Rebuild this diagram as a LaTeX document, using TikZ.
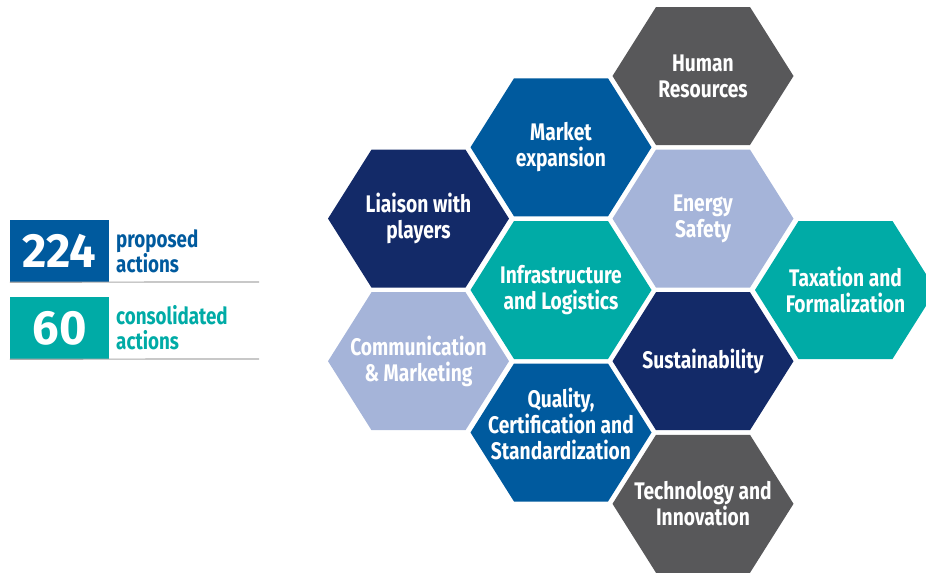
\documentclass[tikz,border=0pt]{standalone}
\usepackage{fontspec}
\newfontfamily\condfont{Fira Sans}[FakeStretch=0.8]
\newfontfamily\numfont{Fira Sans}[FakeStretch=0.98]
\definecolor{hexgray}{RGB}{88,88,90}
\definecolor{hexblue}{RGB}{0,90,158}
\definecolor{hexnavy}{RGB}{19,42,104}
\definecolor{hexlight}{RGB}{165,180,217}
\definecolor{hexteal}{RGB}{0,171,166}
\definecolor{rulegray}{RGB}{170,170,170}
\tikzset{
  hextext/.style={text=white, align=center, font=\condfont\bfseries\fontsize{24}{26}\selectfont, inner sep=0pt},
  countbox/.style={minimum width=99pt, minimum height=62pt, inner sep=0pt, text=white, font=\numfont\bfseries\fontsize{48}{48}\selectfont},
  countlabel/.style={anchor=west, align=left, inner sep=0pt, font=\condfont\bfseries\fontsize{23.5}{25}\selectfont}
}
% one hexagon cell: [label options] name, centre, colour, label
\newcommand\hexcell[5][]{%
  \fill[#4, shift={(#3)}] (-90.5,0) -- (-47,-69) -- (47,-69) -- (90.5,0) -- (47,69) -- (-47,69) -- cycle;
  \node[hextext, #1] (#2) at (#3) {#5};}
\begin{document}
\begin{tikzpicture}[x=1pt, y=-1pt]
\useasboundingbox (0,0) rectangle (926,574);
\begin{scope}
\clip (0,0) rectangle (926,574);
\hexcell{hr}{703,76}{hexgray}{Human\\Resources}
\hexcell{market}{561,147.3}{hexblue}{Market\\expansion}
\hexcell{energy}{703,218.6}{hexlight}{Energy\\Safety}
\hexcell{liaison}{418.5,218.6}{hexnavy}{Liaison with\\players}
\hexcell{infra}{561,290}{hexteal}{Infrastructure\\and Logistics}
\hexcell{tax}{845.5,290}{hexteal}{Taxation and\\Formalization}
\hexcell{comm}{418.5,361.2}{hexlight}{Communication\\\& Marketing}
\hexcell{sust}{703,361.2}{hexnavy}{Sustainability}
\hexcell[yshift=9pt]{quality}{561,432.5}{hexblue}{Quality,\\Certification and\\Standardization}
\hexcell{tech}{703,503.8}{hexgray}{Technology and\\Innovation}
\end{scope}
% summary counts on the left
\node[countbox, fill=hexblue] (n224) at (59.5,251) {224};
\node[countlabel, text=hexblue] (l224) at (116,251) {proposed\\actions};
\draw[rulegray, line width=1.2pt] (n224.south west) -- (259,282) coordinate (r224);
\node[countbox, fill=hexteal] (n60) at (59.5,328) {60};
\node[countlabel, text=hexteal] (l60) at (116,328) {consolidated\\actions};
\draw[rulegray, line width=1.2pt] (n60.south west) -- (259,359) coordinate (r60);
\end{tikzpicture}
\end{document}
